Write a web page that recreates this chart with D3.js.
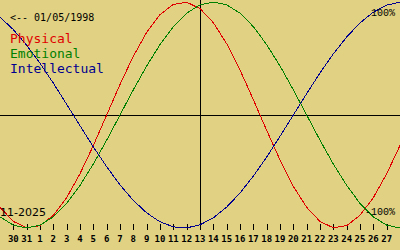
<!DOCTYPE html>
<html><head><meta charset="utf-8">
<script src="https://cdn.jsdelivr.net/npm/d3@7"></script>
<style>html,body{margin:0;padding:0;background:#e0d282;}svg{display:block;}</style>
</head><body>
<svg id="c" width="400" height="250"></svg>
<script>
// days shown as ticks (Oct 30 .. Nov 27, 2025)
const tickLabels = ["30","31","1","2","3","4","5","6","7","8","9","10","11","12","13","14","15","16","17","18","19","20","21","22","23","24","25","26","27"];
// daily values Oct 29 .. Nov 28 (one extra point on each edge)
const physical = [-0.817,-0.942,-0.998,-0.979,-0.888,-0.731,-0.520,-0.270,0,0.270,0.520,0.731,0.888,0.979,0.998,0.942,0.817,0.631,0.398,0.136,-0.136,-0.398,-0.631,-0.817,-0.942,-0.998,-0.979,-0.888,-0.731,-0.520,-0.270];
const emotional = [-0.901,-0.975,-1,-0.975,-0.901,-0.782,-0.623,-0.434,-0.223,0,0.223,0.434,0.623,0.782,0.901,0.975,1,0.975,0.901,0.782,0.623,0.434,0.223,0,-0.223,-0.434,-0.623,-0.782,-0.901,-0.975,-1];
const intellectual = [0.866,0.756,0.618,0.458,0.282,0.095,-0.095,-0.282,-0.458,-0.618,-0.756,-0.866,-0.945,-0.990,-0.999,-0.972,-0.910,-0.815,-0.690,-0.541,-0.372,-0.189,0,0.189,0.372,0.541,0.690,0.815,0.910,0.972,0.999];
const seriesNames = ["Physical","Emotional","Intellectual"];
const colors = ["#e00000","#008000","#000090"];
const birthText = "<-- 01/05/1998";
const monthText = "11-2025";
const todayIndex = 15;

const svg = d3.select("#c");
const W = 400;
const x = d3.scaleLinear().domain([0, physical.length - 1]).range([0, W]);
const y = d3.scaleLinear().domain([-1, 1]).range([228, 2]);

svg.append("rect").attr("width",400).attr("height",250).attr("fill","#e0d282");

// horizontal zero line
svg.append("line").attr("x1",0).attr("x2",W).attr("y1",Math.round(y(0))+0.5).attr("y2",Math.round(y(0))+0.5)
  .attr("stroke","#000").attr("stroke-width",1).attr("shape-rendering","crispEdges");
// today line
svg.append("line").attr("x1",Math.round(x(todayIndex))+0.5).attr("x2",Math.round(x(todayIndex))+0.5).attr("y1",0).attr("y2",230)
  .attr("stroke","#000").attr("stroke-width",1).attr("shape-rendering","crispEdges");

// ticks + labels
const tg = svg.append("g");
tickLabels.forEach((t,i)=>{
  const xx = Math.round(x(i+1))+0.5;
  tg.append("line").attr("x1",xx).attr("x2",xx).attr("y1",224).attr("y2",230)
    .attr("stroke","#000").attr("shape-rendering","crispEdges");
  tg.append("text").attr("x",x(i+1)).attr("y",242).attr("text-anchor","middle")
    .attr("font-family","DejaVu Sans Mono, monospace").attr("font-size","9px").attr("font-weight","bold")
    .attr("fill","#000").text(t);
});

// curves
const line = d3.line().x((d,i)=>x(i)).y(d=>y(d));
[physical, emotional, intellectual].forEach((s,j)=>{
  svg.append("path").attr("d",line(s)).attr("fill","none").attr("stroke",colors[j])
    .attr("stroke-width",1).attr("shape-rendering","crispEdges");
});

// texts
svg.append("text").attr("x",10).attr("y",21).attr("font-family","DejaVu Sans Mono, monospace")
  .attr("font-size","10px").attr("fill","#000").text(birthText);
seriesNames.forEach((n,j)=>{
  svg.append("text").attr("x",10).attr("y",42.5 + j*15).attr("font-family","DejaVu Sans Mono, monospace")
    .attr("font-size","13px").attr("fill",colors[j]).text(n);
});
svg.append("text").attr("x",395).attr("y",16).attr("text-anchor","end").attr("font-family","Liberation Mono, monospace")
  .attr("font-size","10px").attr("fill","#000").text("100%");
svg.append("text").attr("x",395).attr("y",215).attr("text-anchor","end").attr("font-family","Liberation Mono, monospace")
  .attr("font-size","10px").attr("fill","#000").text("-100%");
svg.append("text").attr("x",0).attr("y",216).attr("font-family","DejaVu Sans, sans-serif")
  .attr("font-size","11px").attr("fill","#000").text(monthText);
</script>
</body></html>
